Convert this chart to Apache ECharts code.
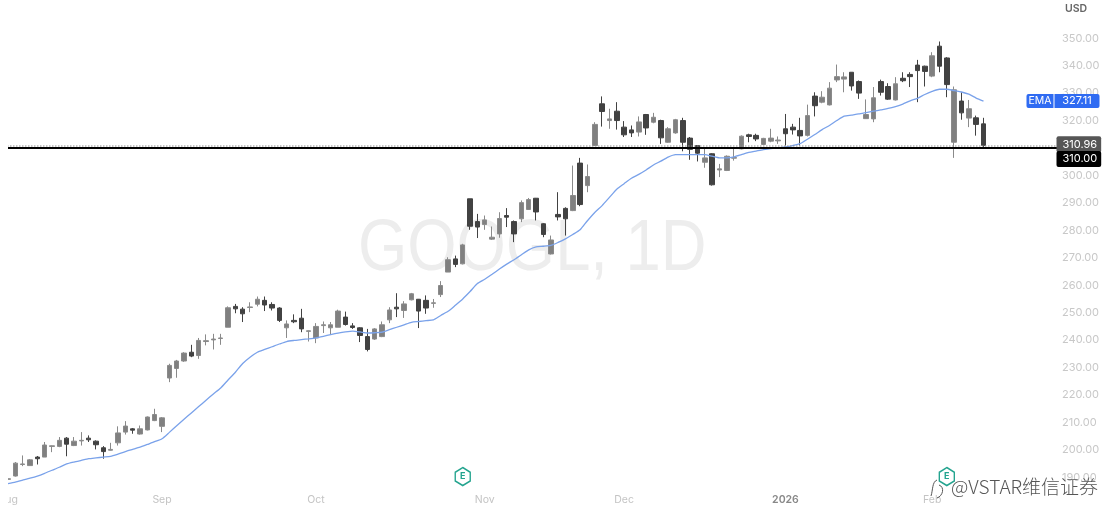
<!DOCTYPE html>
<html><head><meta charset="utf-8">
<style>html,body{margin:0;padding:0;background:#fff}#c{width:1113px;height:523px}</style>
<script src="https://cdn.jsdelivr.net/npm/echarts@6/dist/echarts.min.js"></script>
</head><body><div id="c"></div>
<script>
const opens=[189.3,190.5,194.7,194.3,197.4,197.4,201.3,201.3,204.3,201.6,203.3,204.3,203.2,200.8,199.9,202.6,206.5,207.7,205.8,207.3,210.7,208.6,226.2,229.7,232.4,235.6,234.4,239.5,240.1,240.6,244.7,
252.3,251.3,251.9,253.1,254.5,253,251.7,244.5,247.2,248,243.2,240.8,245.3,244.5,244.7,248.4,245.2,244.5,241.3,240.4,241.3,247.4,252,250.8,254.7,254.9,254.5,253.4,256.6,
264.8,269.6,267.8,291.5,283.2,282.1,276.8,278.7,285.4,283.2,284.2,287.6,291.7,282.4,271.4,285.8,288,287.2,304.5,296.3,
310.9,326.1,320,323.4,317.6,316.6,315.8,322.2,319.4,320,312.1,315.5,320,313.6,310.9,304.8,307.9,302,301.8,306.3,309.7,314.8,314.6,311.3,312.5,312.6,
317,317.6,316.4,314.6,328.9,326.7,325.7,334.8,335.1,337.6,334.2,320.7,320.6,334.2,332.4,327.5,335.4,336.8,340.2,339.8,336.2,347.1,342.8,312.1,327.1,320.9,321,318.8];
const closes=[189.5,195.2,194.9,196.4,196.8,201.8,201.5,203.5,202.1,203.2,203.5,203.7,201.9,199.4,200.2,206.2,208.7,207.2,207.7,212,212.9,211.7,230.8,232.4,235.3,234.2,239.9,239.8,240.4,240.8,251.8,
251.4,249.6,252.1,254.9,252.8,251.7,247.2,245.9,246.7,244.1,243.4,245,245.6,245.6,250.6,245.7,244.6,241.7,236.6,244.1,245.6,251,251.4,253.2,256.9,250.6,251.7,253.6,259.9,
269.3,267.6,274.7,281.5,281.2,283.8,277.5,284.3,284.8,278.7,290.1,291.2,286.7,278.5,276.5,284.9,284.2,292.7,289.4,299.6,
318.6,323.3,320.6,320,314.8,315.5,319.5,317.3,321.2,313.7,317,320.3,312.1,309.5,308.1,306.4,296.6,302.4,307,306.5,314.3,314.2,313.3,313.5,313.6,312.9,
315.2,316.6,314.4,321.8,325.4,328.5,331.8,336,335.9,332.6,330,322.2,328.3,330.3,327.8,333.4,334.5,336,338.2,337.9,343.6,339.8,333.1,331.2,322.8,324.3,318.6,310.96];
const lows=[188.3,190.3,194.1,194.2,194.7,197.4,199.2,201,197.7,201.4,201.6,202.9,200.2,196.8,199.8,201.6,205.6,205.9,205.6,207.1,210.5,206.5,224.7,226.3,232.1,233.8,233.2,238.1,236.6,238.3,244.7,
249.8,246.6,250.2,252.3,250.6,250.8,246.6,240.8,246.2,242.9,239.5,238.9,242.6,242.1,244.7,245.3,244.1,239.3,235.9,240.1,241.1,246.2,248.4,248.1,254.5,244.4,249.6,251.8,255.7,
264.8,266.6,267.6,280.2,277.2,280.2,276.5,277.3,281.2,275.7,283,287.5,283.6,277.5,271.2,283.6,278.1,287,288.8,293.9,
310.7,317.8,317,316.7,314,314,314.2,314.8,319,311.5,311.9,315.2,308.8,305.7,305.1,302.8,296.3,299.4,301.6,305.4,309.5,312.1,312.5,311.2,312.1,311.5,
310.9,314.9,310.9,314.2,321.5,326.3,325.5,334,330.3,330.9,327.9,320.6,319.4,329.1,327.5,327.3,334,332.2,326.7,332.4,335.8,337.6,328.5,306.4,320.3,317.6,314.5,309.7];
const highs=[190.7,195.6,198,196.7,197.8,202.9,201.6,204.7,204.7,204.7,206.5,205.3,203.5,201.4,202.6,208.6,210.5,208,208.9,212.2,215,212,231.4,232.8,235.6,238.3,240.8,242.1,242.3,242.3,252.3,
253.2,252,253.8,255.9,255.9,253.8,252,247.2,249.4,251.4,243.5,246.2,246.8,246.6,251.1,250.4,246.2,244.7,244.1,244.4,246.8,252,257.1,254.2,257.2,255,256.3,255,261.5,
270.2,270.8,275.1,291.5,286,285.4,281.4,286.6,288.1,283.6,290.9,291.8,291.8,282.6,278.1,293.9,288.4,303.6,306.4,304,
319.4,328.8,324.3,326.7,319.8,318.2,321.5,322.4,322.8,320.3,317.6,320.6,321,314,310.9,310.3,308.1,304.2,307.3,309.9,314.6,315.2,315.2,313.7,317,314.2,
322.4,318.8,321,325.8,330.3,330.7,334,340.4,337.6,337.6,334.6,327.7,332.2,334.9,333.6,335.8,337.6,337.6,342.1,340,344.9,348.8,343.1,332.4,330.3,327.5,321.8,321];
const ema=[187.7,188.3,189,189.7,190.5,191.5,192.6,193.7,194.9,195.6,196.2,196.8,197.1,197.4,197.7,198.5,199.4,200.2,201,202,203,204.1,206.4,208.8,211.2,213.5,215.8,218.1,220.4,222.6,225.5,228.3,231.5,233.8,235.6,236.6,237.6,238.6,239.5,239.9,240.2,240.5,240.85,241.4,242,242.55,243,243.3,243,242.6,242.7,242.9,243.8,244.7,245.6,246.5,246.8,247.1,247.4,249,250.5,252.7,255,257.7,260.6,262.2,264,265.9,267.7,269.3,271.1,272.9,274,274.2,274.5,275.6,276.9,278.5,280.2,283.5,286.5,289,292,295,297,299,300.4,302,303.8,305.2,306.7,307.6,307.6,307.6,307.6,307.6,307,306.4,306.4,306.8,307.6,308.4,308.9,309.4,309.8,310.1,310.4,310.9,311.6,313.2,314.9,316.7,318.2,320,321.6,322,322.4,322.9,323.4,323.9,324.4,325.1,326,327.2,328.1,329.5,330.6,331.4,331.4,330.9,330.4,329.6,328.2,327.11];
const tickIndex=[0,21,42,65,84,106,126];
const tickNames=['Aug','Sep','Oct','Nov','Dec','2026','Feb'];
const barSlots=144;
const earningsIndex=[62,128];
const earningsLevel=190.3;
const emaLast=327.11, lastClose=310.96, levelLine=310;
const priceTicksMin=180, priceTicksMax=360, priceStep=10;

const cats=Array.from({length:barSlots},(_,i)=>{const k=tickIndex.indexOf(i);return k>=0?tickNames[k]:'';});
const candle=opens.map((o,i)=>[o,closes[i],lows[i],highs[i]]);
const font='Inter, Roboto, sans-serif';
const boxLabel=(bg,off)=>({show:true,position:'end',distance:-2,offset:[-2,off],color:'#fff',fontFamily:font,fontSize:11,
  backgroundColor:bg,padding:[2,4,2,6],borderRadius:2,align:'left',lineHeight:12,formatter:p=>p.value.toFixed(2)});
const chart=echarts.init(document.getElementById('c'));
chart.setOption({
  animation:false,
  backgroundColor:'#fff',
  grid:{left:4.33,right:52.5,top:10.75,bottom:18.15,outerBoundsMode:'none'},
  graphic:[
    {type:'text',x:358,y:214,scaleX:0.88,z:0,silent:true,style:{text:'GOOGL, 1D',fill:'#ededed',font:'72px "Liberation Sans", Arial, sans-serif'}},
    {type:'rect',z:100,shape:{x:0,y:0,width:8,height:523},style:{fill:'#fff'}},
    {type:'text',x:951,y:477,z:101,style:{text:'@VSTAR维信证券',fill:'#555',font:'300 19px "Noto Sans CJK SC", sans-serif'}},
    {type:'bezierCurve',z:101,shape:{x1:937,y1:480,cpx1:932,cpy1:482,cpx2:933,cpy2:490,x2:931,y2:496},style:{fill:'none',stroke:'#555',lineWidth:1}},
    {type:'bezierCurve',z:101,shape:{x1:939,y1:485,cpx1:945,cpy1:487,cpx2:943,cpy2:496,x2:937,y2:498},style:{fill:'none',stroke:'#555',lineWidth:1}},
    {type:'text',x:1065,y:3,z:101,style:{text:'USD',fill:'#666',font:'600 10.5px '+font}}
  ],
  xAxis:{type:'category',boundaryGap:true,data:cats,position:'bottom',
    axisLine:{show:false},axisTick:{show:false},splitLine:{show:false},
    axisLabel:{inside:true,margin:0,color:'#c4c4c4',fontFamily:font,fontSize:10.5,interval:(i,v)=>v!=='',hideOverlap:false,
      showMinLabel:true,formatter:v=>v==='2026'?'{b|2026}':v,rich:{b:{color:'#888',fontWeight:600,fontFamily:font,fontSize:10.5}}}},
  yAxis:{type:'value',position:'right',min:priceTicksMin,max:priceTicksMax,interval:priceStep,
    axisLine:{show:false},axisTick:{show:false},splitLine:{show:false},
    axisLabel:{margin:1.5,color:'#c8c8c8',fontFamily:font,fontSize:11,showMinLabel:false,showMaxLabel:false,formatter:v=>v.toFixed(2)}},
  series:[
    {type:'candlestick',name:'GOOGL',data:candle,barWidth:5,z:3,
      itemStyle:{color:'#808080',color0:'#424242',borderColor:'#8a8a8a',borderColor0:'#424242',borderWidth:1}},
    {type:'line',name:'EMA',data:ema,showSymbol:false,symbol:'none',smooth:0.2,z:4,lineStyle:{color:'#7aa2ea',width:1.3},
      markLine:{silent:true,symbol:'none',z:6,animation:false,data:[
        {yAxis:lastClose,lineStyle:{color:'#8f8f8f',type:[1,2],width:1.5},label:boxLabel('#565656',-1)},
        {yAxis:levelLine,lineStyle:{color:'#000',type:'solid',width:2},label:boxLabel('#000',11)},
        {yAxis:emaLast,lineStyle:{color:'transparent',width:1},label:{show:true,position:'end',distance:-1,offset:[-33,0],align:'left',
          formatter:p=>'{e|EMA}{g|}{v|'+p.value.toFixed(2)+'}',
          rich:{e:{backgroundColor:'#2f6bf2',color:'#fff',width:27,height:14,align:'center',fontFamily:font,fontSize:10.5,borderRadius:[2,0,0,2]},
                g:{width:1,height:14},
                v:{backgroundColor:'#2f6bf2',color:'#fff',width:45,height:14,align:'center',fontFamily:font,fontSize:11,borderRadius:[0,2,2,0]}}}}
      ]}},
    {type:'scatter',name:'Earnings',data:earningsIndex.map(i=>[i,earningsLevel]),z:5,
      symbol:'path://M50 0 L95 26 L95 74 L50 100 L5 74 L5 26 Z',symbolSize:[15,18],
      itemStyle:{color:'#fff',borderColor:'#24a48f',borderWidth:1.5,opacity:1},
      label:{show:true,position:'inside',formatter:'E',color:'#24a48f',fontFamily:font,fontSize:9,fontWeight:700}}
  ]
});
</script></body></html>
